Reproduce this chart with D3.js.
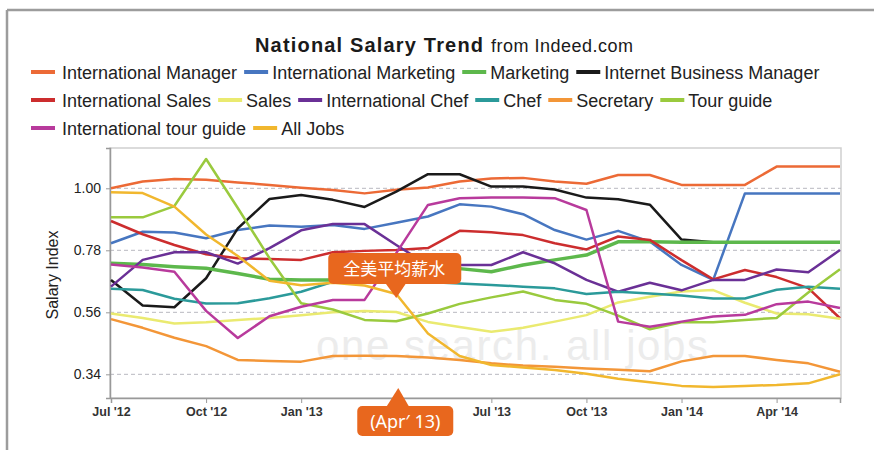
<!DOCTYPE html>
<html><head><meta charset="utf-8">
<script src="https://cdn.jsdelivr.net/npm/d3@7"></script>
<style>body{margin:0;background:#fff}svg{display:block}</style>
</head><body>
<script>
// ---------- DATA ----------
const monthIndex = d3.range(24); // Jul 2012 .. Jun 2014, monthly
const tickMonths = [0, 3, 6, 9, 12, 15, 18, 21];
const tickLabels = ["Jul '12", "Oct '12", "Jan '13", "", "Jul '13", "Oct '13", "Jan '14", "Apr '14"];
const yTicks = [0.34, 0.56, 0.78, 1.00];

const seriesNames = ["International Manager", "International Marketing", "Marketing", "Internet Business Manager",
  "International Sales", "Sales", "International Chef", "Chef", "Secretary", "Tour guide",
  "International tour guide", "All Jobs"];
const seriesColors = ["#ec6a36", "#4776c0", "#5db84c", "#1a1a1a", "#cc2d2e", "#eaea70", "#6a3096",
  "#2b9a9a", "#f39638", "#9aca3e", "#b83a9c", "#f1b72e"];

const intlManager   = [1.000, 1.024, 1.033, 1.030, 1.021, 1.012, 1.002, 0.994, 0.982, 0.995, 1.003, 1.024, 1.035, 1.037, 1.024, 1.016, 1.047, 1.047, 1.012, 1.012, 1.012, 1.077, 1.077, 1.077];
const intlMarketing = [0.805, 0.846, 0.843, 0.823, 0.852, 0.868, 0.864, 0.870, 0.856, 0.878, 0.900, 0.943, 0.935, 0.908, 0.852, 0.818, 0.849, 0.811, 0.728, 0.675, 0.982, 0.982, 0.982, 0.982];
const marketing     = [0.734, 0.730, 0.722, 0.716, 0.698, 0.677, 0.675, 0.675, 0.675, 0.680, 0.690, 0.715, 0.704, 0.728, 0.746, 0.763, 0.810, 0.810, 0.809, 0.809, 0.809, 0.809, 0.809, 0.809];
const internetBizMgr= [0.675, 0.584, 0.578, 0.681, 0.858, 0.962, 0.976, 0.959, 0.934, 0.988, 1.050, 1.050, 1.006, 1.006, 0.996, 0.967, 0.961, 0.942, 0.818, 0.809, 0.809, 0.809, 0.809, 0.809];
const intlSales     = [0.884, 0.837, 0.799, 0.766, 0.752, 0.749, 0.746, 0.773, 0.778, 0.781, 0.788, 0.849, 0.844, 0.834, 0.805, 0.783, 0.829, 0.817, 0.745, 0.677, 0.710, 0.685, 0.646, 0.539];
const sales         = [0.556, 0.540, 0.520, 0.525, 0.533, 0.540, 0.550, 0.560, 0.565, 0.561, 0.526, 0.508, 0.491, 0.505, 0.527, 0.550, 0.595, 0.615, 0.634, 0.639, 0.594, 0.556, 0.553, 0.537];
const intlChef      = [0.651, 0.746, 0.773, 0.773, 0.733, 0.788, 0.851, 0.873, 0.873, 0.799, 0.728, 0.728, 0.728, 0.773, 0.734, 0.675, 0.633, 0.665, 0.638, 0.675, 0.675, 0.712, 0.702, 0.781];
const chef          = [0.644, 0.639, 0.608, 0.591, 0.592, 0.610, 0.633, 0.668, 0.675, 0.672, 0.668, 0.662, 0.657, 0.651, 0.645, 0.625, 0.633, 0.627, 0.620, 0.609, 0.609, 0.640, 0.651, 0.644];
const secretary     = [0.536, 0.505, 0.470, 0.440, 0.391, 0.387, 0.385, 0.405, 0.406, 0.405, 0.400, 0.391, 0.379, 0.371, 0.367, 0.361, 0.356, 0.351, 0.386, 0.405, 0.405, 0.391, 0.379, 0.349];
const tourGuide     = [0.897, 0.897, 0.937, 1.104, 0.930, 0.752, 0.592, 0.570, 0.533, 0.528, 0.556, 0.590, 0.613, 0.634, 0.604, 0.590, 0.548, 0.500, 0.525, 0.525, 0.533, 0.540, 0.630, 0.713];
const intlTourGuide = [0.730, 0.719, 0.704, 0.565, 0.469, 0.546, 0.580, 0.604, 0.604, 0.770, 0.941, 0.965, 0.967, 0.967, 0.965, 0.923, 0.527, 0.509, 0.527, 0.545, 0.551, 0.589, 0.598, 0.575];
const allJobs       = [0.986, 0.983, 0.935, 0.836, 0.760, 0.672, 0.656, 0.665, 0.655, 0.625, 0.485, 0.405, 0.373, 0.364, 0.355, 0.342, 0.324, 0.312, 0.299, 0.295, 0.299, 0.302, 0.308, 0.340];

const seriesValues = [intlManager, intlMarketing, marketing, internetBizMgr, intlSales, sales, intlChef,
  chef, secretary, tourGuide, intlTourGuide, allJobs];
const legendRows = [[0, 1, 2, 3], [4, 5, 6, 7, 8, 9], [10, 11]];
const drawOrder = [0, 1, 3, 2, 4, 5, 6, 7, 8, 9, 10, 11];

const titleMain = "National Salary Trend";
const titleSub = "from Indeed.com";
const calloutTop = "全美平均薪水";
const calloutBottom = "(Apr′ 13)";
const calloutMonth = 9;

// ---------- LAYOUT ----------
const W = 874, H = 450;
const FONT = "Liberation Sans, Arial, sans-serif";
const plot = {left: 110, right: 841, top: 148, bottom: 398};
const svg = d3.select("body").append("svg").attr("width", W).attr("height", H);
svg.append("rect").attr("width", W).attr("height", H).attr("fill", "#fff");

// outer frame (top + left grey rules)
svg.append("line").attr("x1", 7).attr("x2", W).attr("y1", 10).attr("y2", 10).attr("stroke", "#9c9c9c").attr("stroke-width", 2.5);
svg.append("line").attr("x1", 7).attr("x2", 7).attr("y1", 10).attr("y2", H).attr("stroke", "#9c9c9c").attr("stroke-width", 2.5);

const x = d3.scaleLinear().domain([0, 23]).range([111, 840]);
const y = d3.scaleLinear().domain([0.256, 1.143]).range([plot.bottom, plot.top]);

// faint watermark slogan
svg.append("text").attr("x", 316).attr("y", 360).attr("font-family", FONT)
  .attr("font-size", 42).attr("fill", "#ececec").attr("textLength", 392).text("one search. all jobs");

// plot frame
svg.append("rect").attr("x", plot.left).attr("y", plot.top).attr("width", plot.right - plot.left)
  .attr("height", plot.bottom - plot.top).attr("fill", "none").attr("stroke", "#cfcfcf").attr("stroke-width", 1.5);

// gridlines
svg.append("g").selectAll("line").data(yTicks).join("line")
  .attr("x1", plot.left).attr("x2", plot.right).attr("y1", d => y(d)).attr("y2", d => y(d))
  .attr("stroke", "#b8b8c0").attr("stroke-width", 1).attr("stroke-dasharray", "4,3");

// y axis
const yAxis = svg.append("g").attr("transform", `translate(${plot.left},0)`)
  .call(d3.axisLeft(y).tickValues(yTicks).tickFormat(d3.format(".2f")).tickSize(4).tickPadding(5));
yAxis.select(".domain").attr("stroke", "#999").attr("stroke-width", 1.5);
yAxis.selectAll(".tick line").attr("stroke", "#999");
yAxis.selectAll("text").attr("font-family", FONT).attr("font-size", 14).attr("fill", "#222");

// x axis
const xAxis = svg.append("g").attr("transform", `translate(0,${plot.bottom})`)
  .call(d3.axisBottom(x).tickValues(tickMonths).tickFormat((d, i) => tickLabels[i]).tickSize(5).tickPadding(4));
xAxis.select(".domain").attr("stroke", "#999").attr("stroke-width", 1.5);
xAxis.selectAll(".tick line").attr("stroke", "#999");
xAxis.selectAll("text").attr("font-family", FONT).attr("font-weight", "bold")
  .attr("font-size", 12.5).attr("fill", "#333");

// y label
svg.append("text").attr("transform", "translate(58,275) rotate(-90)").attr("text-anchor", "middle")
  .attr("font-family", FONT).attr("font-size", 16).attr("fill", "#222").text("Salary Index");

// lines
const line = d3.line().x((d, i) => x(monthIndex[i])).y(d => y(d));
svg.append("g").selectAll("path").data(drawOrder).join("path")
  .attr("d", k => line(seriesValues[k])).attr("fill", "none").attr("stroke", k => seriesColors[k])
  .attr("stroke-width", k => k === 2 ? 3.5 : 2.5).attr("stroke-linejoin", "round");

// title
svg.append("text").attr("x", 255).attr("y", 52).attr("font-family", FONT).attr("font-weight", "bold")
  .attr("font-size", 20).attr("fill", "#1a1a1a").attr("textLength", 228).text(titleMain);
svg.append("text").attr("x", 491).attr("y", 52).attr("font-family", FONT)
  .attr("font-size", 18).attr("fill", "#1a1a1a").attr("textLength", 142).text(titleSub);

// legend
const rowY = [72, 100, 128];
legendRows.forEach((row, r) => {
  let cx = 31;
  row.forEach((k, j) => {
    const g = svg.append("g");
    g.append("line").attr("x1", cx).attr("x2", cx + 24).attr("y1", rowY[r]).attr("y2", rowY[r])
      .attr("stroke", seriesColors[k]).attr("stroke-width", 4);
    const t = g.append("text").attr("x", cx + (j === 0 ? 31 : 28)).attr("y", rowY[r] + 6.5)
      .attr("font-family", FONT).attr("font-size", 18).attr("fill", "#222")
      .text(seriesNames[k]);
    cx += (j === 0 ? 31 : 28) + t.node().getComputedTextLength() + 7;
  });
});

// callouts
const orange = "#e8671e";
const cx0 = x(calloutMonth);
const topG = svg.append("g");
topG.append("rect").attr("x", cx0 - 68).attr("y", 253).attr("width", 133).attr("height", 31).attr("rx", 5).attr("fill", orange);
topG.append("path").attr("d", `M${cx0 - 11},283 L${cx0 + 10},283 L${cx0},298 Z`).attr("fill", orange);
topG.append("text").attr("x", cx0 - 2).attr("y", 275).attr("text-anchor", "middle")
  .attr("font-family", "Noto Sans CJK SC, sans-serif").attr("font-size", 17).attr("fill", "#fff").text(calloutTop);

const botG = svg.append("g");
botG.append("rect").attr("x", cx0 - 39).attr("y", 406).attr("width", 96).attr("height", 30).attr("rx", 5).attr("fill", orange);
botG.append("path").attr("d", `M${cx0 - 10},407 L${cx0 + 13},407 L${cx0 + 2},388 Z`).attr("fill", orange);
botG.append("text").attr("x", cx0 + 9).attr("y", 428).attr("text-anchor", "middle")
  .attr("font-family", "Noto Sans, sans-serif").attr("font-size", 18).attr("fill", "#fff").text(calloutBottom);
</script>
</body></html>
